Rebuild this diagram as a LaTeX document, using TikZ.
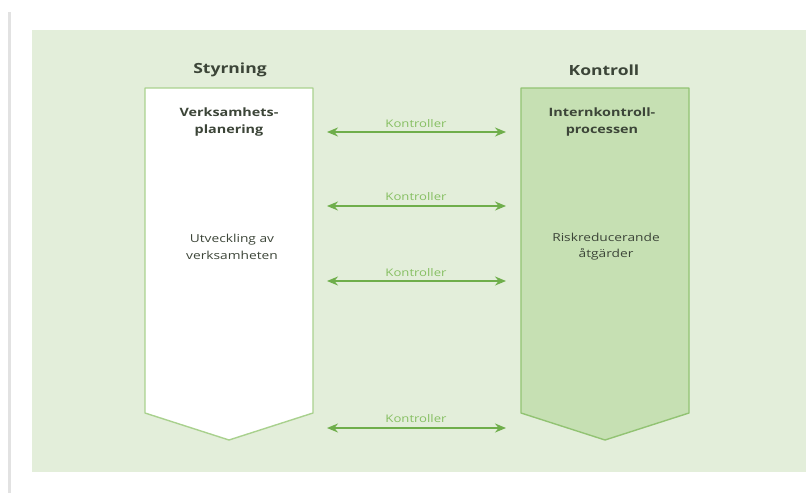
\documentclass[tikz,border=0pt]{standalone}
\usepackage{fontspec}
\setmainfont{Open Sans}[FakeStretch=1.25]
\usetikzlibrary{arrows.meta}
\definecolor{bggreen}{HTML}{E3EEDA}
\definecolor{fillgreen}{HTML}{C6E0B3}
\definecolor{edgegreen}{HTML}{92C373}
\definecolor{edgelight}{HTML}{A9D18E}
\definecolor{arrowgreen}{HTML}{6FAE4B}
\definecolor{lblgreen}{HTML}{86BF62}
\definecolor{txtdark}{HTML}{3C4538}
\definecolor{linegray}{HTML}{E2E2E2}
\tikzset{
  headtxt/.style={font=\bfseries\fontsize{14}{17}\selectfont, text=txtdark},
  titletxt/.style={font=\bfseries\fontsize{11.5}{17}\selectfont, align=center, text=txtdark},
  bodytxt/.style={font=\fontsize{11}{16.5}\selectfont, align=center, text=txtdark},
  lbltxt/.style={font=\fontsize{10.5}{12}\selectfont, text=lblgreen},
  conn/.style={draw=arrowgreen, line width=1.6pt,
    {Stealth[length=11pt,width=9pt]}-{Stealth[length=11pt,width=9pt]}},
  leftcol/.style={fill=white, draw=edgelight, line width=1.4pt, line join=round},
  rightcol/.style={fill=fillgreen, draw=edgegreen, line width=1.4pt, line join=round}
}
\begin{document}
\begin{tikzpicture}[x=1pt,y=-1pt]
\useasboundingbox (0,0) rectangle (811,493);
\fill[white] (0,0) rectangle (811,493);
\fill[linegray] (8,12) rectangle (11,493);
\fill[bggreen] (32,30) rectangle (806,472);

% columns
\draw[leftcol] (145,88) -- (313,88) -- (313,413) -- (229,440) -- (145,413) -- cycle;
\draw[rightcol] (521,88) -- (689,88) -- (689,413) -- (605,440) -- (521,413) -- cycle;

% headers
\node[headtxt] (styr) at (230,70) {Styrning};
\node[headtxt] (kont) at (604,70) {Kontroll};

% column texts
\node[titletxt] (vp) at (229,122.5) {Verksamhets-\\planering};
\node[bodytxt] (uv) at (232,247) {Utveckling av\\verksamheten};
\node[titletxt] (ikp) at (602,122.5) {Internkontroll-\\processen};
\node[bodytxt] (rr) at (606,246.5) {Riskreducerande\\åtgärder};

% arrow ends
\coordinate (a1l) at (327,132); \coordinate (a1r) at (506,132);
\coordinate (a2l) at (327,206); \coordinate (a2r) at (506,206);
\coordinate (a3l) at (327,281); \coordinate (a3r) at (506,281);
\coordinate (a4l) at (327,428); \coordinate (a4r) at (506,428);

\draw[conn] (a1l) -- (a1r);
\draw[conn] (a2l) -- (a2r);
\draw[conn] (a3l) -- (a3r);
\draw[conn] (a4l) -- (a4r);

\node[lbltxt] (k1) at (416,123.5) {Kontroller};
\node[lbltxt] (k2) at (416,197) {Kontroller};
\node[lbltxt] (k3) at (416,272.5) {Kontroller};
\node[lbltxt] (k4) at (416,419) {Kontroller};
\end{tikzpicture}
\end{document}
